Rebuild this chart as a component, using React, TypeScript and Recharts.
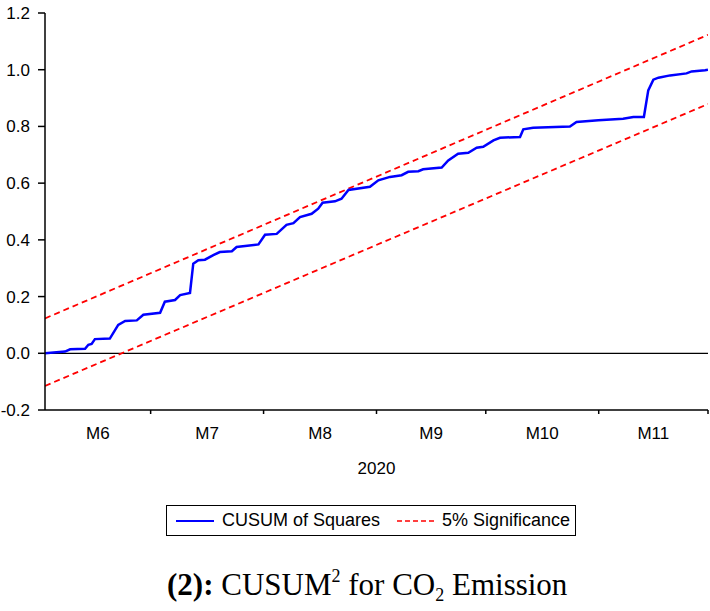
import React from 'react';
import { LineChart, Line, XAxis, YAxis, ReferenceLine, Legend } from 'recharts';

// Month boundaries (observation index) and labels
const monthLabels = ['M6', 'M7', 'M8', 'M9', 'M10', 'M11'];
const monthBounds = [0, 29, 60, 91, 121, 152, 182];
const yearLabel = '2020';

// CUSUM of squares
const obsIndex = [
  0, 5.5, 6.9, 11, 11.9, 12.8, 13.7, 17.8, 20.1, 22, 25.2, 27, 31.6, 32.9, 35.7, 37.1, 39.8, 40.7,
  42.1, 43.9, 46.2, 48, 51.3, 52.6, 58.6, 60.4, 63.6, 66.3, 68.2, 70, 73.2, 75, 76.2, 79.6, 81.4,
  83.3, 89.2, 91.5, 94.7, 97.9, 99.7, 102.5, 103.8, 108.9, 110.7, 113.4, 116.2, 118.5, 120.3, 123.1,
  124.9, 130.4, 131.3, 134, 144.1, 145.9, 151.9, 158.7, 161.5, 164.4, 165.6, 167, 168.4, 171.6,
  176.1, 177.5, 181.2, 182,
];
const cusumSq = [
  0, 0.006, 0.014, 0.016, 0.03, 0.033, 0.05, 0.052, 0.1, 0.114, 0.116, 0.136, 0.143, 0.182, 0.188,
  0.205, 0.213, 0.316, 0.328, 0.33, 0.346, 0.357, 0.36, 0.375, 0.384, 0.418, 0.421, 0.453, 0.459,
  0.48, 0.492, 0.51, 0.531, 0.536, 0.545, 0.576, 0.587, 0.61, 0.622, 0.628, 0.64, 0.642, 0.649,
  0.655, 0.68, 0.704, 0.707, 0.725, 0.728, 0.751, 0.76, 0.763, 0.79, 0.795, 0.8, 0.816, 0.822,
  0.827, 0.833, 0.833, 0.927, 0.965, 0.972, 0.98, 0.987, 0.994, 0.998, 1.0,
];

// 5% significance bands (straight lines, endpoints)
const sigIndex = [0, 182];
const sigUpper = [0.123, 1.123];
const sigLower = [-0.115, 0.879];

const yTicks = [-0.2, 0, 0.2, 0.4, 0.6, 0.8, 1.0, 1.2];

const cusumData = obsIndex.map((x, i) => ({ x, cusum: cusumSq[i] }));
const upperData = sigIndex.map((x, i) => ({ x, sig: sigUpper[i] }));
const lowerData = sigIndex.map((x, i) => ({ x, sig: sigLower[i] }));

const midpoints = monthLabels.map((_, i) => (monthBounds[i] + monthBounds[i + 1]) / 2);
const xTicks = [...monthBounds.slice(1), ...midpoints].sort((a, b) => a - b);

const FONT = 'Arial, "Liberation Sans", sans-serif';

const MonthTick = (props: any) => {
  const { x, y, payload } = props;
  const v = payload.value;
  const bi = monthBounds.indexOf(v);
  if (bi >= 0) {
    return <line x1={x} x2={x} y1={y} y2={y + 4} stroke="#000" strokeWidth={1.5} />;
  }
  const mi = midpoints.indexOf(v);
  return (
    <text x={x} y={y + 29} textAnchor="middle" fontSize={17} fontFamily={FONT} fill="#000">
      {mi >= 0 ? monthLabels[mi] : ''}
    </text>
  );
};

const renderLegend = () => (
  <div
    style={{
      position: 'relative',
      width: 408,
      height: 29,
      border: '1px solid #000',
      background: '#fff',
      fontFamily: FONT,
      fontSize: 18,
      lineHeight: '29px',
      color: '#000',
    }}
  >
    <svg width={38} height={29} style={{ position: 'absolute', left: 9, top: 0 }}>
      <line x1={0} x2={38} y1={15} y2={15} stroke="#0000ff" strokeWidth={2} />
    </svg>
    <span style={{ position: 'absolute', left: 55, top: 0, whiteSpace: 'nowrap' }}>CUSUM of Squares</span>
    <svg width={38} height={29} style={{ position: 'absolute', left: 230, top: 0 }}>
      <line x1={0} x2={38} y1={15} y2={15} stroke="#ff0000" strokeWidth={1.5} strokeDasharray="5 3" />
    </svg>
    <span style={{ position: 'absolute', left: 275, top: 0, whiteSpace: 'nowrap' }}>5% Significance</span>
  </div>
);

export default function App() {
  return (
    <div style={{ position: 'absolute', left: 0, top: 0, width: 710, height: 611, background: '#fff' }}>
      <LineChart width={710} height={611} margin={{ top: 13, right: 2, left: 0, bottom: 131 }}>
        <XAxis
          dataKey="x"
          type="number"
          domain={[0, 182]}
          ticks={xTicks}
          interval={0}
          allowDataOverflow
          tickSize={0}
          tickMargin={0}
          tickLine={false}
          tick={<MonthTick />}
          axisLine={{ stroke: '#000', strokeWidth: 1.5 }}
          height={70}
          label={{ value: yearLabel, position: 'insideBottom', offset: 6, fontSize: 17, fontFamily: FONT, fill: '#000' }}
        />
        <YAxis
          type="number"
          domain={[-0.2, 1.2]}
          ticks={yTicks}
          interval={0}
          width={45}
          tickSize={7}
          tickMargin={8}
          tickFormatter={(v: number) => v.toFixed(1)}
          tick={{ fontSize: 17, fontFamily: FONT, fill: '#000' }}
          tickLine={{ stroke: '#000', strokeWidth: 1.5 }}
          axisLine={{ stroke: '#000', strokeWidth: 1.5 }}
        />
        <ReferenceLine y={0} stroke="#000" strokeWidth={1.3} />
        <Line
          data={upperData}
          dataKey="sig"
          type="linear"
          stroke="#ff0000"
          strokeWidth={1.8}
          strokeDasharray="6 4"
          dot={false}
          activeDot={false}
          isAnimationActive={false}
          legendType="none"
        />
        <Line
          data={lowerData}
          dataKey="sig"
          type="linear"
          stroke="#ff0000"
          strokeWidth={1.8}
          strokeDasharray="6 4"
          dot={false}
          activeDot={false}
          isAnimationActive={false}
          legendType="none"
        />
        <Line
          data={cusumData}
          dataKey="cusum"
          type="linear"
          stroke="#0000ff"
          strokeWidth={2.5}
          dot={false}
          activeDot={false}
          isAnimationActive={false}
        />
        <Legend
          layout="horizontal"
          verticalAlign="middle"
          align="center"
          content={renderLegend}
          wrapperStyle={{ position: 'absolute', left: 166, top: 505, width: 'auto', height: 'auto' }}
        />
      </LineChart>
      <div
        style={{
          position: 'absolute',
          left: 167,
          top: 569,
          fontFamily: '"Liberation Serif", "Times New Roman", serif',
          fontSize: 31,
          lineHeight: '31px',
          whiteSpace: 'nowrap',
          color: '#000',
        }}
      >
        <b>(2):</b> CUSUM
        <span style={{ fontSize: 18, position: 'relative', top: -13, lineHeight: 0 }}>2</span> for CO
        <span style={{ fontSize: 18, position: 'relative', top: 6, lineHeight: 0 }}>2</span> Emission
      </div>
    </div>
  );
}
